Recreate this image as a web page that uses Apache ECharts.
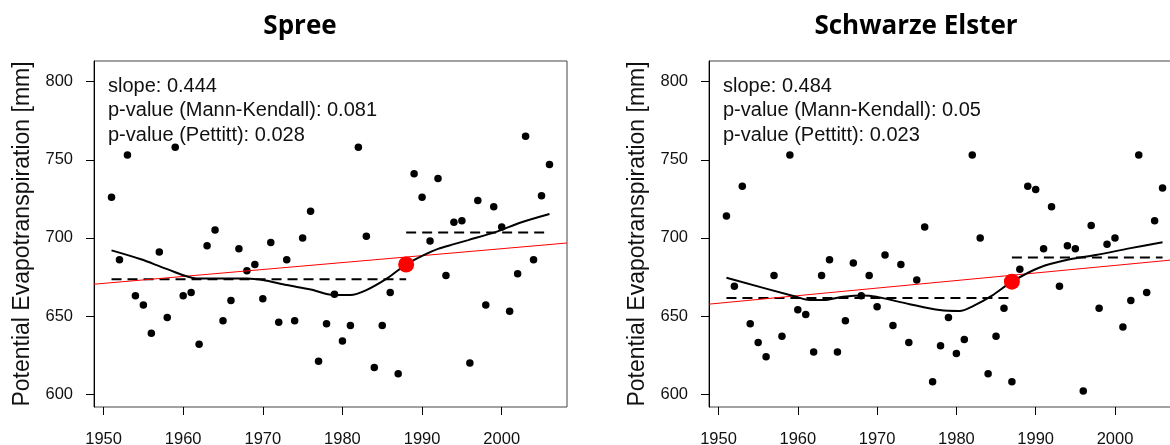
<!DOCTYPE html>
<html>
<head>
<meta charset="utf-8">
<script src="https://cdn.jsdelivr.net/npm/echarts@6/dist/echarts.min.js"></script>
<style>
  html, body { margin: 0; padding: 0; background: #fff; }
  #chart { width: 1170px; height: 445px; }
</style>
</head>
<body>
<div id="chart"></div>
<script>
var years = [1951, 1952, 1953, 1954, 1955, 1956, 1957, 1958, 1959, 1960,
	1961, 1962, 1963, 1964, 1965, 1966, 1967, 1968, 1969, 1970,
	1971, 1972, 1973, 1974, 1975, 1976, 1977, 1978, 1979, 1980,
	1981, 1982, 1983, 1984, 1985, 1986, 1987, 1988, 1989, 1990,
	1991, 1992, 1993, 1994, 1995, 1996, 1997, 1998, 1999, 2000,
	2001, 2002, 2003, 2004, 2005, 2006];

var spreeValues = [726, 686, 753, 663, 657, 639, 691, 649, 758, 663,
	665, 632, 695, 705, 647, 660, 693, 679, 683, 661,
	697, 646, 686, 647, 700, 717, 621, 645, 664, 634,
	644, 758, 701, 617, 644, 665, 613, 683, 741, 726,
	698, 738, 676, 710, 711, 620, 724, 657, 720, 707,
	653, 677, 765, 686, 727, 747];

var elsterValues = [714, 669, 733, 645, 633, 624, 676, 637, 753, 654,
	651, 627, 676, 686, 627, 647, 684, 663, 676, 656,
	689, 644, 683, 633, 673, 707, 608, 631, 649, 626,
	635, 753, 700, 613, 637, 655, 608, 680, 733, 731,
	693, 720, 669, 695, 693, 602, 708, 655, 696, 700,
	643, 660, 753, 665, 711, 732];

// loess curves
var spreeLoess = [[1951, 692], [1954.7, 686.3], [1958, 680], [1961.7, 674.1], [1965, 674],
	[1968, 674], [1970, 673], [1973, 669.8], [1976, 667], [1978.9, 663.4], [1981, 663.4],
	[1983, 666.6], [1985.6, 674.1], [1988, 683], [1990.2, 689], [1992, 693], [1994, 696],
	[1995.8, 698.6], [1999.4, 704], [2002.3, 709.7], [2006, 715.3]];
var elsterLoess = [[1951, 674.5], [1959.8, 662.3], [1961.5, 660.2], [1963.2, 660.2],
	[1965.7, 662.3], [1968.2, 663.2], [1969.9, 662.3], [1974.1, 657.6], [1977.9, 653.8],
	[1980.4, 653.2], [1982.1, 656.4], [1984.6, 663.4], [1987, 672], [1990.5, 681.1],
	[1994.3, 686.3], [1997.6, 689], [2001.8, 693.3], [2006, 697.2]];

// trend: [value at 1950, slope]
var spreeTrend = [670.9, 0.444];
var elsterTrend = [658.2, 0.484];
// pettitt: [change year, mean before, mean after]
var spreeShift = [1988, 673.5, 703.5];
var elsterShift = [1987, 661.5, 687.5];
var spreeChange = [1988, 683];
var elsterChange = [1987, 672];

var spreeStats = ['slope: 0.444', 'p-value (Mann-Kendall): 0.081', 'p-value (Pettitt): 0.028'];
var elsterStats = ['slope: 0.484', 'p-value (Mann-Kendall): 0.05', 'p-value (Pettitt): 0.023'];

var xTicks = [1950, 1960, 1970, 1980, 1990, 2000];
var yTicks = [600, 650, 700, 750, 800];

var xMin = 1948.8, xMax = 2008.2, yMin = 591.8, yMax = 813.2;
var fontR = '"Liberation Sans", Arial, sans-serif';

// tiny stand-in for jQuery's extend, just enough here
var $ = { extend: function(t) {
	for (var a = 1; a < arguments.length; a++)
		for (var k in arguments[a]) t[k] = arguments[a][k];
	return t;
} };

function xAxisFor(i) {
	return {
		type: 'value', gridIndex: i, min: xMin, max: xMax,
		splitLine: { show: false },
		axisLine: { show: false },
		axisTick: { show: true, customValues: xTicks, length: 8, lineStyle: { color: '#000', width: 1 } },
		axisLabel: { customValues: xTicks, margin: 24, fontSize: 16.5, color: '#111', fontFamily: fontR,
			formatter: function(v) { return String(v); } }
	};
}

function yAxisFor(i) {
	return {
		type: 'value', gridIndex: i, min: yMin, max: yMax,
		name: 'Potential Evapotranspiration [mm]',
		nameLocation: 'middle', nameRotate: 90, nameGap: 60,
		nameTextStyle: { fontSize: 23, color: '#111', fontFamily: fontR },
		splitLine: { show: false },
		axisLine: { show: true, lineStyle: { color: '#000', width: 1 } },
		axisTick: { show: true, customValues: yTicks, length: 8, lineStyle: { color: '#000', width: 1 } },
		axisLabel: { customValues: yTicks, margin: 21, fontSize: 16.5, color: '#111', fontFamily: fontR }
	};
}

function panelSeries(i, values, loess, trend, shift, change) {
	var pts = years.map(function(y, k) { return [y, values[k]]; });
	var base = { xAxisIndex: i, yAxisIndex: i, silent: true, symbol: 'none' };
	var dash = { color: '#000', width: 2, type: [10, 6] };
	return [
		$.extend({}, base, { type: 'scatter', symbol: 'circle', symbolSize: 7.5, data: pts,
			itemStyle: { color: '#000', opacity: 1 }, z: 2 }),
		$.extend({}, base, { type: 'line', z: 3,
			data: [[years[0], shift[1]], [shift[0], shift[1]]], lineStyle: dash }),
		$.extend({}, base, { type: 'line', z: 3,
			data: [[shift[0], shift[2]], [years[years.length - 1], shift[2]]], lineStyle: dash }),
		$.extend({}, base, { type: 'line', z: 4,
			data: [[xMin, trend[0] + trend[1] * (xMin - 1950)], [xMax, trend[0] + trend[1] * (xMax - 1950)]],
			lineStyle: { color: '#ff0000', width: 1 } }),
		$.extend({}, base, { type: 'line', z: 5, smooth: 0.3, data: loess,
			lineStyle: { color: '#000', width: 2 } }),
		$.extend({}, base, { type: 'scatter', symbol: 'circle', symbolSize: 16, data: [change],
			itemStyle: { color: '#ff0000', opacity: 1 }, z: 6 })
	];
}

function statsText(x, lines) {
	return {
		type: 'text', left: x, top: 74, silent: true,
		style: { text: lines.join('\n'), font: '20px ' + fontR, fill: '#111', lineHeight: 24.5 }
	};
}

function titleText(x, txt) {
	return {
		type: 'text', x: x, y: 27, silent: true,
		style: { text: txt, font: 'bold 26px "Open Sans", sans-serif', fill: '#000',
			textAlign: 'center', textVerticalAlign: 'middle' }
	};
}

var myChart = echarts.init(document.getElementById('chart'));
var option = {
	animation: false,
	backgroundColor: '#fff',
	grid: [
		{ left: 94, top: 61, width: 473, height: 346, show: true, borderColor: '#444', borderWidth: 1, outerBoundsMode: 'none' },
		{ left: 709, top: 61, width: 471, height: 346, show: true, borderColor: '#444', borderWidth: 1, outerBoundsMode: 'none' }
	],
	xAxis: [xAxisFor(0), xAxisFor(1)],
	yAxis: [yAxisFor(0), yAxisFor(1)],
	graphic: [
		titleText(300, 'Spree'),
		titleText(916, 'Schwarze Elster'),
		statsText(108, spreeStats),
		statsText(723, elsterStats)
	],
	series: panelSeries(0, spreeValues, spreeLoess, spreeTrend, spreeShift, spreeChange)
		.concat(panelSeries(1, elsterValues, elsterLoess, elsterTrend, elsterShift, elsterChange))
};
myChart.setOption(option);
</script>
</body>
</html>
